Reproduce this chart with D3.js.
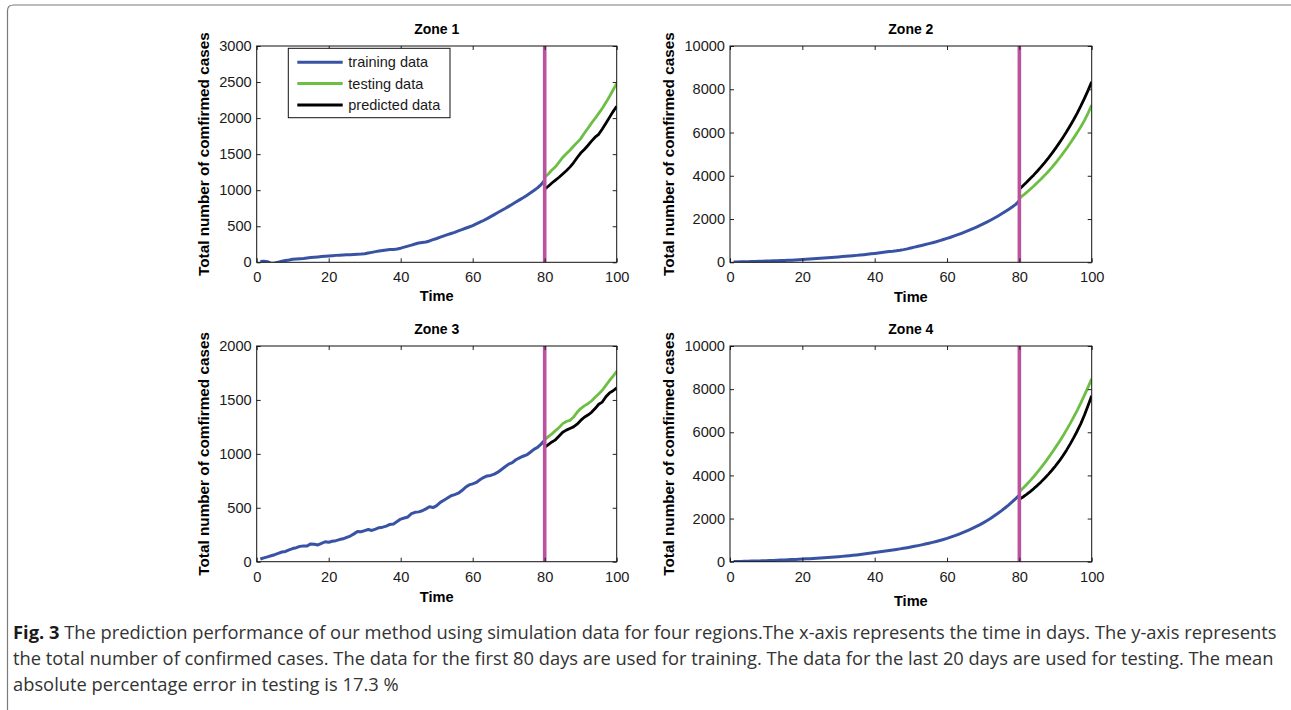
<!DOCTYPE html>
<html>
<head>
<meta charset="utf-8">
<script src="https://cdn.jsdelivr.net/npm/d3@7"></script>
<style>
  body { margin: 0; background: #fff; }
  svg { display: block; font-family: "Liberation Sans", Arial, sans-serif; }
</style>
</head>
<body>
<svg width="1291" height="710"></svg>
<script>
// ---- data ----
var zones = ["Zone 1", "Zone 2", "Zone 3", "Zone 4"];
var yMaxes = [3000, 10000, 2000, 10000];
var yTicks1 = [0, 500, 1000, 1500, 2000, 2500, 3000];
var yTicks2 = [0, 2000, 4000, 6000, 8000, 10000];
var yTicks3 = [0, 500, 1000, 1500, 2000];
var yTicks4 = [0, 2000, 4000, 6000, 8000, 10000];
var xTicks = [0, 20, 40, 60, 80, 100];
var splitDay = 80;

var trainDays = d3.range(1, 81);
var testDays = d3.range(80, 101);

var train1 = [12,15,8,-15,-10,2,15,25,32,42,46,50,54,60,66,70,75,80,85,88,
  92,96,99,102,104,106,109,112,114,118,128,138,148,156,164,172,176,178,184,196,
  210,224,238,254,268,276,282,296,314,330,348,366,384,400,416,436,454,472,490,508,
  532,556,580,606,634,662,690,718,746,776,806,836,866,896,928,962,996,1032,1078,1140];
var test1 = [1180,1225,1280,1325,1390,1455,1505,1555,1610,1660,1715,1790,1860,1930,1995,2065,2135,2215,2300,2390,2480];
var pred1 = [1015,1055,1100,1140,1180,1225,1270,1320,1380,1450,1515,1565,1620,1680,1735,1775,1850,1930,2010,2090,2165];

var train2 = [10,15,20,25,30,35,40,45,50,55,60,66,72,78,85,92,100,110,120,130,
  140,152,165,178,190,202,214,226,238,250,263,277,291,306,320,336,352,370,390,410,
  430,452,475,495,510,530,555,585,620,660,700,740,780,820,862,905,950,1000,1052,1105,
  1160,1218,1278,1340,1405,1472,1542,1615,1692,1772,1856,1944,2036,2132,2232,2336,2444,2556,2680,2850];
var test2 = [2960,3090,3230,3380,3530,3690,3850,4020,4200,4390,4590,4800,5020,5250,5490,5740,6000,6270,6560,6900,7270];
var pred2 = [3380,3540,3700,3870,4040,4220,4410,4610,4820,5040,5270,5510,5760,6020,6300,6590,6900,7230,7580,7950,8340];

var train3 = [25,35,45,55,65,78,90,95,110,122,130,142,146,145,165,162,155,170,185,180,
  190,195,205,212,225,238,258,280,278,288,298,290,302,315,320,330,345,350,372,395,
  405,415,445,458,462,472,490,510,502,520,550,570,590,612,622,635,660,690,712,722,
  735,760,780,795,800,812,830,855,880,905,918,945,962,978,990,1015,1042,1060,1090,1125];
var test3 = [1130,1160,1185,1215,1245,1280,1300,1310,1340,1385,1420,1445,1465,1490,1525,1555,1590,1635,1680,1720,1765];
var pred3 = [1060,1085,1110,1130,1165,1200,1220,1235,1250,1275,1310,1340,1360,1385,1420,1460,1480,1530,1565,1585,1612];

var train4 = [5,10,14,19,23,28,32,37,41,46,53,60,67,74,82,90,98,106,115,124,
  132,141,150,160,170,181,193,205,218,232,247,262,279,297,315,335,357,379,404,430,
  451,472,494,518,542,567,594,621,650,680,712,745,780,817,856,896,938,983,1030,1080,
  1137,1196,1259,1325,1394,1467,1544,1625,1710,1800,1900,2005,2117,2234,2358,2489,2627,2773,2927,3090];
var test4 = [3245,3410,3580,3760,3950,4150,4360,4580,4810,5050,5300,5550,5820,6100,6390,6700,7020,7360,7720,8090,8480];
var pred4 = [2890,3000,3120,3250,3390,3540,3700,3870,4050,4240,4440,4660,4900,5160,5440,5740,6060,6400,6800,7240,7700];

var legendLabels = ["training data", "testing data", "predicted data"];
var captionBold = "Fig. 3";
var captionLines = [
  " The prediction performance of our method using simulation data for four regions.The x-axis represents the time in days. The y-axis represents",
  "the total number of confirmed cases. The data for the first 80 days are used for training. The data for the last 20 days are used for testing. The mean",
  "absolute percentage error in testing is 17.3 %"
];

// ---- styling / layout ----
var colTrain = "#3953a4", colTest = "#6dbf44", colPred = "#000000", colSplit = "#b9529f";
var panels = [
  {left: 256.7, top: 46, w: 360, h: 216.3, ticks: yTicks1, train: train1, test: test1, pred: pred1, ylx: 204, tly: 301},
  {left: 730, top: 46, w: 361.7, h: 216.3, ticks: yTicks2, train: train2, test: test2, pred: pred2, ylx: 669, tly: 302},
  {left: 256.7, top: 346, w: 360, h: 215.7, ticks: yTicks3, train: train3, test: test3, pred: pred3, ylx: 204, tly: 602},
  {left: 730, top: 346, w: 361.7, h: 215.7, ticks: yTicks4, train: train4, test: test4, pred: pred4, ylx: 669, tly: 606}
];

var svg = d3.select("svg");

// figure frame (rounded corner top-left)
svg.append("path")
  .attr("d", "M7.5,712 V11 Q7.5,5 13.5,5 H1292")
  .attr("fill", "none").attr("stroke", "#7a7a7a").attr("stroke-width", 1.2);

panels.forEach(function(p, i) {
  var g = svg.append("g").attr("transform", "translate(" + p.left + "," + p.top + ")");

  var x = d3.scaleLinear().domain([0, 100]).range([0, p.w]);
  var y = d3.scaleLinear().domain([0, yMaxes[i]]).range([p.h, 0]);

  g.append("clipPath").attr("id", "clip" + i)
    .append("rect").attr("width", p.w).attr("height", p.h);

  var line = d3.line()
    .x(function(d) { return x(d[0]); })
    .y(function(d) { return y(d[1]); });

  var plot = g.append("g").attr("clip-path", "url(#clip" + i + ")");

  plot.append("path")
    .datum(d3.zip(trainDays, p.train))
    .attr("fill", "none").attr("stroke", colTrain).attr("stroke-width", 3)
    .attr("stroke-linejoin", "round")
    .attr("d", line);
  plot.append("path")
    .datum(d3.zip(testDays, p.test))
    .attr("fill", "none").attr("stroke", colTest).attr("stroke-width", 2.8)
    .attr("stroke-linejoin", "round")
    .attr("d", line);
  plot.append("path")
    .datum(d3.zip(testDays, p.pred))
    .attr("fill", "none").attr("stroke", colPred).attr("stroke-width", 2.8)
    .attr("stroke-linejoin", "round")
    .attr("d", line);

  plot.append("line")
    .attr("x1", x(splitDay)).attr("x2", x(splitDay))
    .attr("y1", 0).attr("y2", p.h)
    .attr("stroke", colSplit).attr("stroke-width", 3.6);

  // axes with inward ticks (box on)
  var fmt = d3.format("d");
  var ax = g.append("g").attr("transform", "translate(0," + p.h + ")")
    .call(d3.axisBottom(x).tickValues(xTicks).tickFormat(fmt).tickSizeInner(-4).tickSizeOuter(0).tickPadding(6));
  var ay = g.append("g")
    .call(d3.axisLeft(y).tickValues(p.ticks).tickFormat(fmt).tickSizeInner(-4).tickSizeOuter(0).tickPadding(5));
  var at = g.append("g")
    .call(d3.axisTop(x).tickValues(xTicks).tickSizeInner(-4).tickSizeOuter(0).tickFormat(""));
  var ar = g.append("g").attr("transform", "translate(" + p.w + ",0)")
    .call(d3.axisRight(y).tickValues(p.ticks).tickSizeInner(-4).tickSizeOuter(0).tickFormat(""));
  [ax, ay, at, ar].forEach(function(a) {
    a.attr("font-size", 14.6).attr("font-family", "'Liberation Sans', Arial, sans-serif");
    a.select(".domain").remove();
    a.selectAll("line").attr("stroke", "#222");
    a.selectAll("text").style("font-size", "14.6px").attr("fill", "#1a1a1a");
  });
  ax.selectAll("text").attr("dy", "0.95em");

  g.append("rect").attr("width", p.w).attr("height", p.h)
    .attr("fill", "none").attr("stroke", "#111").attr("stroke-width", 1);

  // titles
  svg.append("text")
    .attr("x", p.left + p.w / 2).attr("y", p.top - 12)
    .attr("text-anchor", "middle").attr("font-weight", "bold").attr("font-size", "14px")
    .text(zones[i]);
  svg.append("text")
    .attr("x", p.left + p.w / 2).attr("y", p.tly)
    .attr("text-anchor", "middle").attr("font-weight", "bold").attr("font-size", "14.6px")
    .text("Time");
  svg.append("text")
    .attr("transform", "translate(" + p.ylx + "," + (p.top + p.h / 2) + ") rotate(-90)")
    .attr("text-anchor", "middle").attr("dy", "0.35em")
    .attr("font-weight", "bold").attr("font-size", "15.3px")
    .text("Total number of comfirmed cases");

  // legend in first panel
  if (i === 0) {
    var lg = svg.append("g").attr("transform", "translate(288.3,48.3)");
    lg.append("rect").attr("width", 161.7).attr("height", 69.4)
      .attr("fill", "#fff").attr("stroke", "#111").attr("stroke-width", 1);
    var cols = [colTrain, colTest, colPred];
    legendLabels.forEach(function(lab, k) {
      var yy = 14 + k * 21.3;
      lg.append("line").attr("x1", 9).attr("x2", 54.4).attr("y1", yy).attr("y2", yy)
        .attr("stroke", cols[k]).attr("stroke-width", 3);
      lg.append("text").attr("x", 60).attr("y", yy).attr("dy", "0.35em")
        .attr("font-size", "14.5px").attr("fill", "#1a1a1a").text(lab);
    });
  }
});

// caption: condensed look, same horizontal squeeze for every line
var capFont = "'Open Sans', 'Noto Sans', sans-serif";
var capG = svg.append("g");
var capTexts = captionLines.map(function(txt, k) {
  var t = capG.append("text")
    .attr("x", 0).attr("y", 639 + k * 26)
    .attr("font-family", capFont).attr("font-size", "18px").attr("fill", "#333");
  if (k === 0) {
    t.append("tspan").attr("font-weight", "bold").attr("fill", "#1a1a1a").text(captionBold);
  }
  t.append("tspan").text(txt);
  return t;
});
var natural = capTexts[0].node().getComputedTextLength();
var sx = 1264 / natural;
capG.attr("transform", "translate(13,0) scale(" + sx + ",1)");
</script>
</body>
</html>
